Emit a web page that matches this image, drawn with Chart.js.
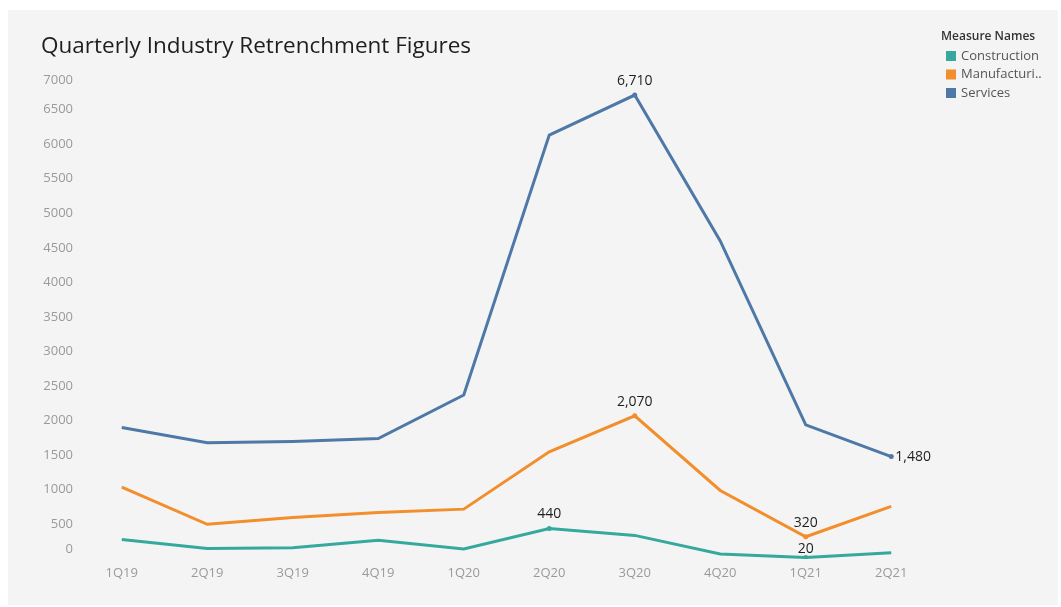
<!DOCTYPE html>
<html>
<head>
<meta charset="utf-8">
<script src="https://cdn.jsdelivr.net/npm/chart.js@4.4.1/dist/chart.umd.min.js"></script>
<style>
  html, body { margin: 0; padding: 0; background: #ffffff; }
  #wrap { position: absolute; left: 0; top: 0; width: 1061px; height: 607px; }
</style>
</head>
<body>
<div id="wrap"><canvas id="c" width="1061" height="607"></canvas></div>
<script>
// ---- data ----
const quarters = ["1Q19","2Q19","3Q19","4Q19","1Q20","2Q20","3Q20","4Q20","1Q21","2Q21"];
const construction = [280, 150, 160, 270, 145, 440, 340, 70, 20, 90];
const manufacturing = [1040, 500, 600, 670, 720, 1550, 2070, 990, 320, 760];
const services = [1900, 1680, 1700, 1740, 2370, 6130, 6710, 4600, 1940, 1480];
const yTickValues = [0, 500, 1000, 1500, 2000, 2500, 3000, 3500, 4000, 4500, 5000, 5500, 6000, 6500, 7000];
const seriesNames = ["Construction", "Manufacturing", "Services"];
const legendLabels = ["Construction", "Manufacturi..", "Services"];
// indices of points that carry a value label
const constructionLabelled = [5, 8];
const manufacturingLabelled = [6, 8];
const servicesLabelled = [6, 9];

const colors = ["#35a99c", "#f28e2b", "#4e79a7"];
const FONT = "'Open Sans', 'Noto Sans', sans-serif";

function radii(n, idx) { return Array.from({length: n}, (_, i) => idx.includes(i) ? 2.5 : 0); }

const datasets = [
  { label: seriesNames[0], data: construction, labelled: constructionLabelled, labelPos: ["top","top"] },
  { label: seriesNames[1], data: manufacturing, labelled: manufacturingLabelled, labelPos: ["top","top"] },
  { label: seriesNames[2], data: services, labelled: servicesLabelled, labelPos: ["top","right"] }
].map((d, k) => ({
  label: d.label,
  data: d.data,
  labelled: d.labelled,
  labelPos: d.labelPos,
  borderColor: colors[k],
  backgroundColor: colors[k],
  borderWidth: 3,
  pointRadius: radii(d.data.length, d.labelled),
  pointBorderWidth: 0,
  pointHoverRadius: 0,
  tension: 0,
  fill: false
}));

const decor = {
  id: 'decor',
  beforeDraw(chart) {
    const ctx = chart.ctx;
    ctx.save();
    ctx.fillStyle = '#ffffff';
    ctx.fillRect(0, 0, chart.width, chart.height);
    ctx.fillStyle = '#f4f4f4';
    ctx.fillRect(8, 10, 1050, 595);
    // title
    ctx.fillStyle = '#1e1e1e';
    ctx.font = "22.5px " + FONT;
    ctx.textBaseline = 'middle';
    ctx.textAlign = 'left';
    ctx.fillText("Quarterly Industry Retrenchment Figures", 41, 47);
    // y tick labels
    const ys = chart.scales.y;
    ctx.fillStyle = '#9a9a9a';
    ctx.font = "13px " + FONT;
    ctx.textAlign = 'right';
    yTickValues.forEach(v => {
      let py = ys.getPixelForValue(v);
      py = Math.min(py, ys.bottom - 10);
      py = Math.max(py, ys.top + 5);
      ctx.fillText(String(v), 73, py);
    });
    // legend
    ctx.textAlign = 'left';
    ctx.fillStyle = '#333333';
    ctx.font = "600 12px " + FONT;
    ctx.fillText("Measure Names", 941, 37);
    ctx.font = "13px " + FONT;
    legendLabels.forEach((t, i) => {
      const cy = 56 + i * 18.5;
      ctx.fillStyle = colors[i];
      ctx.fillRect(946, cy - 5, 10, 10);
      ctx.fillStyle = '#555555';
      ctx.fillText(t, 961, cy);
    });
    ctx.restore();
  },
  afterDatasetsDraw(chart) {
    const ctx = chart.ctx;
    ctx.save();
    ctx.fillStyle = '#1e1e1e';
    ctx.font = "14px " + FONT;
    chart.data.datasets.forEach((ds, k) => {
      const meta = chart.getDatasetMeta(k);
      ds.labelled.forEach((i, j) => {
        const pt = meta.data[i];
        const txt = ds.data[i].toLocaleString('en-US');
        if (ds.labelPos[j] === 'right') {
          ctx.textAlign = 'left'; ctx.textBaseline = 'middle';
          ctx.fillText(txt, pt.x + 4, pt.y);
        } else {
          ctx.textAlign = 'center'; ctx.textBaseline = 'middle';
          const off = (ds.data[i] < 100) ? 9 : 14;
          ctx.fillText(txt, pt.x, pt.y - off);
        }
      });
    });
    ctx.restore();
  }
};

new Chart(document.getElementById('c'), {
  type: 'line',
  data: { labels: quarters, datasets },
  options: {
    responsive: false,
    animation: false,
    events: [],
    layout: { padding: { left: 79, right: 127, top: 75, bottom: 18.5 } },
    plugins: { legend: { display: false }, tooltip: { enabled: false } },
    scales: {
      x: {
        offset: true,
        grid: { display: false, drawTicks: false },
        border: { display: false },
        ticks: { color: '#9a9a9a', font: { family: FONT, size: 13 }, padding: 7, maxRotation: 0 }
      },
      y: {
        display: false,
        min: 0,
        max: 7000
      }
    }
  },
  plugins: [decor]
});
</script>
</body>
</html>
